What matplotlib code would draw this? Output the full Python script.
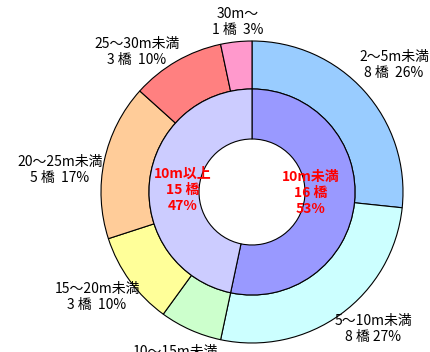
import matplotlib
matplotlib.use("Agg")
import matplotlib.pyplot as plt

plt.rcParams['font.family'] = ['Noto Sans CJK JP', 'DejaVu Sans']

# Outer ring: bridge length classes
outer_labels = ["2～5m未満\n8 橋  26%", "5～10m未満\n8 橋 27%", "10～15m未満\n2 橋  7%",
                "15～20m未満\n3 橋  10%", "20～25m未満\n5 橋  17%", "25～30m未満\n3 橋  10%",
                "30m～\n1 橋  3%"]
outer_values = [8, 8, 2, 3, 5, 3, 1]
outer_colors = ["#99CCFF", "#CCFFFF", "#CCFFCC", "#FFFF99", "#FFCC99", "#FF8080", "#FF99CC"]

# Inner ring: under / over 10 m
inner_labels = ["10m未満\n16 橋\n53%", "10m以上\n15 橋\n47%"]
inner_values = [16, 14]
inner_colors = ["#9999FF", "#CCCCFF"]

W, H = 430, 352
cx, cy, R = 252, 192, 151  # pixel centre and outer radius

fig = plt.figure(figsize=(W / 100, H / 100), dpi=100)
ax = fig.add_axes([0, 0, 1, 1])
ax.axis('off')

wedge_kw = dict(edgecolor='black', linewidth=0.8)
ax.pie(outer_values, colors=outer_colors, radius=1.0, startangle=90, counterclock=False,
       wedgeprops=dict(width=1.0 - 103 / 151, **wedge_kw))
ax.pie(inner_values, colors=inner_colors, radius=103 / 151, startangle=90, counterclock=False,
       wedgeprops=dict(width=(103 - 53) / 151, **wedge_kw))
ax.set_xlim(-cx / R, (W - cx) / R)
ax.set_ylim(-(H - cy) / R, cy / R)
ax.set_aspect('auto')

def px(x, y):
    return (x - cx) / R, (cy - y) / R

outer_pos = [(394, 65), (373, 329), (175, 360), (97, 297), (60, 170), (137, 52), (238, 22)]
for lab, (x, y) in zip(outer_labels, outer_pos):
    ax.text(*px(x, y), lab, ha='center', va='center', fontsize=10, linespacing=1.2,
            color='black')

inner_pos = [(311, 193), (183, 190)]
for lab, (x, y) in zip(inner_labels, inner_pos):
    ax.text(*px(x, y), lab, ha='center', va='center', fontsize=10, fontweight='bold',
            linespacing=1.2, color='red')

fig.savefig("out.png", dpi=100)
